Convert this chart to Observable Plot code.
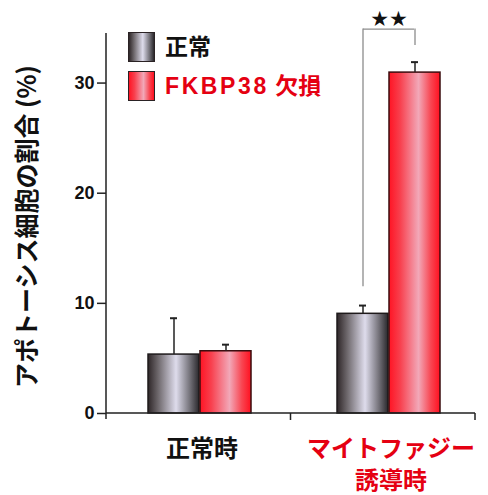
<!DOCTYPE html>
<html>
<head>
<meta charset="utf-8">
<script src="https://cdn.jsdelivr.net/npm/d3@7"></script>
<script src="https://cdn.jsdelivr.net/npm/@observablehq/plot@0.6"></script>
<style>
  html, body { margin: 0; padding: 0; background: #fff; }
  #wrap { position: relative; width: 488px; height: 495px; font-family: "Liberation Sans", "Noto Sans CJK JP", sans-serif; }
  #legend { position: absolute; left: 128px; top: 32px; }
  .item { display: flex; align-items: center; height: 30px; margin-bottom: 9px; }
  .sw { width: 25px; height: 28px; border: 1.5px solid #2a2224; box-sizing: content-box; margin-right: 10px; flex: none; }
  .lbl { font-size: 23px; font-weight: bold; line-height: 1; white-space: nowrap; font-family: "Liberation Sans", "Noto Sans CJK JP", sans-serif; }
  .lat { letter-spacing: 2.6px; }
</style>
</head>
<body>
<div id="wrap"></div>
<script>
// ---- data ----
const groups = ["正常時", "マイトファジー誘導時"];
const groupLabels = ["正常時", "マイトファジー\n誘導時"];
const groupColors = ["#111111", "#e50012"];
const series = ["正常", "FKBP38 欠損"];
const seriesColors = ["#111111", "#e50012"];
const normalValues = [5.35, 9.05];
const normalErrors = [3.3, 0.75];
const fkbpValues = [5.65, 30.95];
const fkbpErrors = [0.6, 0.95];
const yTicks = [0, 10, 20, 30];
const yMax = 34.5;
const yLabel = "アポトーシス細胞の割合 (%)";
// significance bracket (between the two bars of the second group)
const bracketGroup = groups[1];
const bracketLeftBottom = 11.5;
const bracketTop = 34.9;
const bracketRightBottom = 33.4;
const starsY = 35.8;
const starsText = "★★";

// ---- layout ----
const W = 488, H = 495;
const barW = 52;            // width of one bar
const capHalf = 4;

const normalData = groups.map((g, i) => ({group: g, value: normalValues[i], top: normalValues[i] + normalErrors[i]}));
const fkbpData = groups.map((g, i) => ({group: g, value: fkbpValues[i], top: fkbpValues[i] + fkbpErrors[i]}));
const labelData = groups.map((g, i) => ({group: g, label: groupLabels[i], color: groupColors[i], base: 0}));

function defs() {
  const d = d3.create("svg:defs");
  const mk = (id, stops) => {
    const lg = d.append("linearGradient").attr("id", id).attr("x1", "0%").attr("x2", "100%").attr("y1", "0%").attr("y2", "0%");
    for (const [o, c] of stops) lg.append("stop").attr("offset", o).attr("stop-color", c);
  };
  mk("gradGray", [["0%", "#2e2628"], ["20%", "#6e686c"], ["55%", "#dedcec"], ["80%", "#7c7a82"], ["100%", "#2a282c"]]);
  mk("gradRed", [["0%", "#ff1424"], ["22%", "#f8404e"], ["58%", "#f2a8b8"], ["82%", "#f84652"], ["100%", "#ff1020"]]);
  return d.node();
}

function axisLines(index, scales, values, dims) {
  const {marginLeft, marginRight, marginTop, width} = dims;
  const x0 = marginLeft, x2 = width - marginRight, x1 = (x0 + x2) / 2;
  const y0 = scales.y(0);
  const g = d3.create("svg:g").attr("stroke", "#222").attr("stroke-width", 1.5).attr("fill", "none");
  g.append("path").attr("d", `M${x0},${marginTop}V${y0 + 6}M${x0},${y0}H${x2}M${x1},${y0}v7M${x2},${y0}v7`);
  return g.node();
}

const plot = Plot.plot({
  width: W,
  height: H,
  marginLeft: 106,
  marginRight: 13,
  marginTop: 33,
  marginBottom: 82,
  style: {fontFamily: "'Liberation Sans', 'Noto Sans CJK JP', sans-serif", background: "#fff", color: "#111"},
  x: {type: "band", domain: groups, paddingInner: 86 / 190, paddingOuter: 0.19737, align: 0.547, axis: null},
  y: {domain: [0, yMax], axis: null},
  marks: [
    defs,
    Plot.barY(normalData, {x: "group", y: "value", fill: "url(#gradGray)", stroke: "#1e1a1b", strokeWidth: 1.5, insetRight: barW}),
    Plot.barY(fkbpData, {x: "group", y: "value", fill: "url(#gradRed)", stroke: "#3a0c0e", strokeWidth: 1.5, insetLeft: barW}),
    // error bars
    Plot.ruleX(normalData, {x: "group", y1: "value", y2: "top", dx: -barW / 2, stroke: "#222", strokeWidth: 1.5}),
    Plot.ruleX(fkbpData, {x: "group", y1: "value", y2: "top", dx: barW / 2, stroke: "#222", strokeWidth: 1.5}),
    Plot.tickY(normalData, {x: "group", y: "top", insetLeft: barW / 2 - capHalf, insetRight: barW * 1.5 - capHalf, stroke: "#222", strokeWidth: 2}),
    Plot.tickY(fkbpData, {x: "group", y: "top", insetLeft: barW * 1.5 - capHalf, insetRight: barW / 2 - capHalf, stroke: "#222", strokeWidth: 2}),
    // significance bracket
    Plot.ruleX([{group: bracketGroup, y1: bracketLeftBottom, y2: bracketTop}], {x: "group", y1: "y1", y2: "y2", dx: -barW / 2, stroke: "#8c8c8c", strokeWidth: 1.3}),
    Plot.ruleX([{group: bracketGroup, y1: bracketRightBottom, y2: bracketTop}], {x: "group", y1: "y1", y2: "y2", dx: barW / 2, stroke: "#8c8c8c", strokeWidth: 1.3}),
    Plot.ruleY([{group: bracketGroup, y: bracketTop}], {x1: "group", x2: "group", y: "y", insetLeft: barW / 2, insetRight: barW / 2, stroke: "#8c8c8c", strokeWidth: 1.3}),
    Plot.text([{group: bracketGroup, y: starsY, t: starsText}], {x: "group", y: "y", text: "t", fontSize: 21, fill: "#111", fontFamily: "DejaVu Sans", letterSpacing: -2}),
    // axes
    axisLines,
    Plot.axisY({ticks: yTicks, tickSize: 9, tickPadding: 3, fontSize: 18, fontWeight: "bold", label: null, stroke: "#222", strokeWidth: 1.5}),
    Plot.text([yLabel], {frameAnchor: "left", textAnchor: "middle", dx: -79, dy: 3, rotate: -90, fontSize: 25, fontWeight: "bold", fill: "#111", fontFamily: "'Noto Sans CJK JP', sans-serif"}),
    Plot.text(labelData, {x: "group", y: "base", text: "label", fill: "color", textAnchor: "middle", lineAnchor: "top", dy: 20, dx: 2, fontSize: 24, lineHeight: 1.35, fontWeight: "bold", fontFamily: "'Noto Sans CJK JP', sans-serif"})
  ]
});

const wrap = document.getElementById("wrap");
wrap.appendChild(plot);

// legend (HTML, positioned over the plot area)
const legend = document.createElement("div");
legend.id = "legend";
const grads = [
  "linear-gradient(to right, #2e2628 0%, #6e686c 20%, #dedcec 55%, #7c7a82 80%, #2a282c 100%)",
  "linear-gradient(to right, #ff1424 0%, #f8404e 22%, #f2a8b8 58%, #f84652 82%, #ff1020 100%)"
];
series.forEach((s, i) => {
  const item = document.createElement("div");
  item.className = "item";
  const sw = document.createElement("div");
  sw.className = "sw";
  sw.style.background = grads[i];
  const lb = document.createElement("span");
  lb.className = "lbl";
  lb.style.color = seriesColors[i];
  // wider spacing for Latin letters
  s.split(/(\s+)/).forEach(part => {
    const sp = document.createElement("span");
    sp.textContent = part;
    if (/^[A-Za-z0-9]+$/.test(part)) sp.className = "lat";
    lb.appendChild(sp);
  });
  item.appendChild(sw);
  item.appendChild(lb);
  legend.appendChild(item);
});
wrap.appendChild(legend);
</script>
</body>
</html>
